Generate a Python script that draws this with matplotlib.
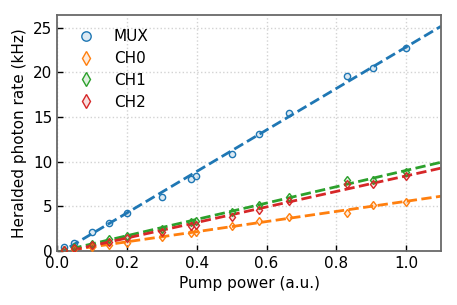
import numpy as np
import matplotlib
matplotlib.use("Agg")
from matplotlib import pyplot as plt

# pump power (a.u.)
power = [0.02, 0.047, 0.1, 0.15, 0.2, 0.3, 0.384, 0.397, 0.5, 0.578, 0.664, 0.83, 0.905, 1.0]

# heralded photon rates (kHz)
mux = [0.5, 0.9, 2.1, 3.15, 4.3, 6.1, 8.05, 8.35, 10.9, 13.15, 15.5, 19.6, 20.45, 22.7]
ch0 = [0.1, 0.25, 0.4, 0.65, 0.95, 1.55, 2.0, 2.1, 2.8, 3.4, 3.8, 4.3, 5.2, 5.5]
ch1 = [0.15, 0.4, 0.75, 1.3, 1.7, 2.5, 3.3, 3.4, 4.4, 5.2, 6.0, 7.9, 8.0, 8.9]
ch2 = [0.1, 0.3, 0.7, 1.05, 1.5, 2.15, 2.75, 2.9, 3.8, 4.6, 5.6, 7.5, 7.5, 8.4]

names = ["MUX", "CH0", "CH1", "CH2"]
colors = ["tab:blue", "tab:orange", "tab:green", "tab:red"]
markers = ["o", "d", "d", "d"]

fig, ax = plt.subplots(figsize=(4.57, 3.05), dpi=100)

x = np.array(power)
xfit = np.linspace(0, 1.1, 50)
for ys, name, c, m in zip([mux, ch0, ch1, ch2], names, colors, markers):
    y = np.array(ys)
    # linear fit
    k, b = np.polyfit(x, y, 1)
    ax.plot(xfit, k * xfit + b, "--", color=c, lw=2, zorder=2)
    face = matplotlib.colors.to_rgba(c, 0.15)
    ax.plot(x, y, m, ms=4.5, mfc=face, mec=c, mew=1, color=c, label=name,
            linestyle="none", zorder=3)

ax.set_xlim(0, 1.1)
ax.set_ylim(0, 26.4)
ax.set_xticks([0, 0.2, 0.4, 0.6, 0.8, 1.0])
ax.set_yticks([0, 5, 10, 15, 20, 25])
ax.grid(True, linestyle=":", color="lightgray", lw=1)
ax.set_axisbelow(True)
ax.tick_params(direction="in", labelsize=11, length=4, width=1)
for s in ax.spines.values():
    s.set_color("dimgray")
    s.set_linewidth(1.3)
ax.set_xlabel("Pump power (a.u.)", fontsize=11)
ax.set_ylabel("Heralded photon rate (kHz)", fontsize=11)
ax.legend(loc="upper left", frameon=False, fontsize=11, markerscale=1.5,
          handletextpad=0.8, labelspacing=0.45)

fig.subplots_adjust(left=0.125, right=0.965, top=0.95, bottom=0.177)
fig.savefig("out.png", dpi=100)
